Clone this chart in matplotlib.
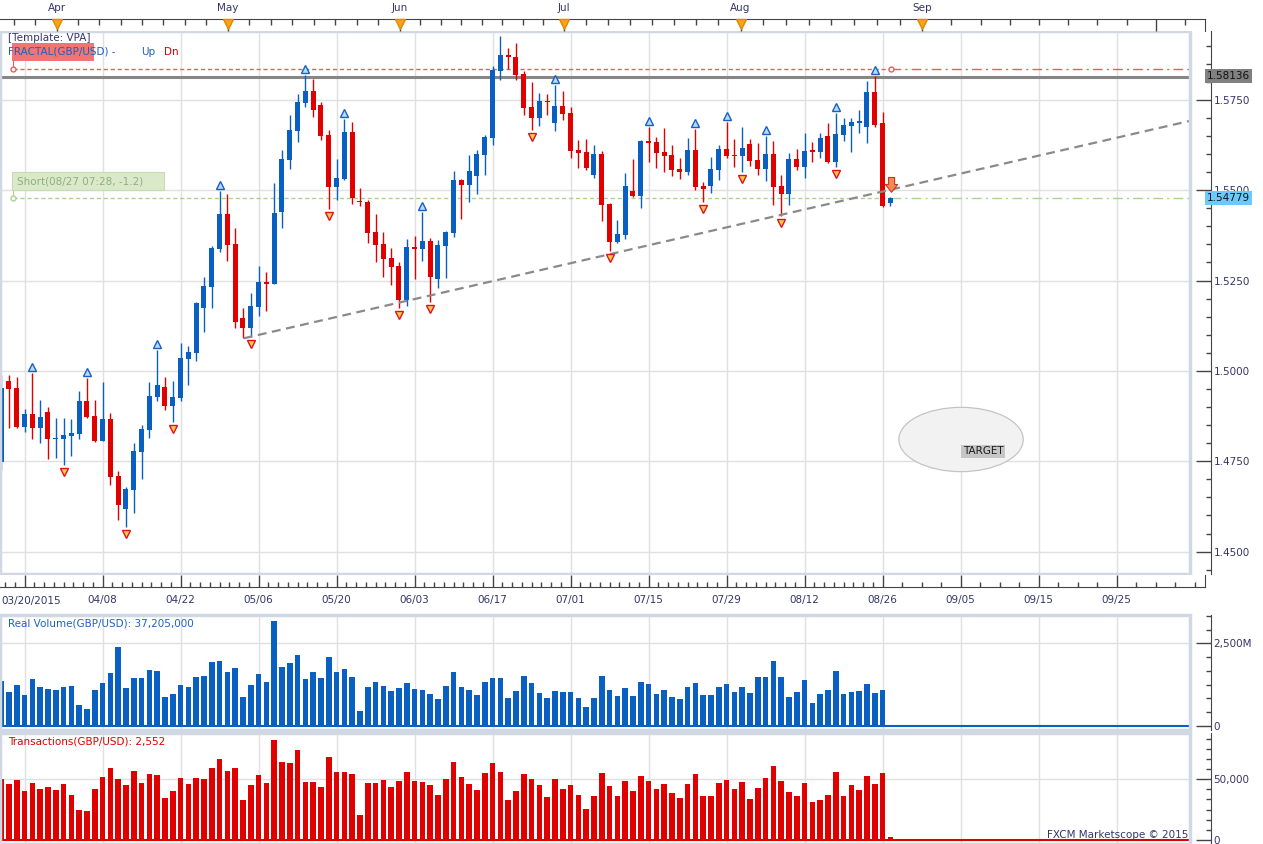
import numpy as np
import matplotlib.pyplot as plt
from matplotlib.patches import Ellipse, Rectangle
from matplotlib.ticker import FixedLocator

W, H = 1263, 844
PX = 7.8  # pixels per daily bar

BLUE = '#0a60c2'
RED = '#e00000'
NAVY = '#35356b'
GRID = '#e0e0e0'
FRAME = '#cfd8e3'

# daily GBP/USD candles, 03/20/2015 .. 08/27/2015
opens = [1.47489, 1.49720, 1.49517, 1.48457, 1.48807, 1.48429, 1.48863, 1.48106, 1.48125, 1.48208,
         1.48263, 1.49167, 1.48752, 1.48070, 1.48678, 1.47092, 1.46188, 1.46705, 1.47765, 1.48365,
         1.49287, 1.49554, 1.49038, 1.49250, 1.50338, 1.50504, 1.51749, 1.52320, 1.53372, 1.54349,
         1.53509, 1.51453, 1.51177, 1.51776, 1.52458, 1.52412, 1.54404, 1.55833, 1.56645, 1.57419,
         1.57742, 1.57355, 1.56525, 1.55095, 1.55317, 1.56608, 1.54690, 1.54671, 1.53841, 1.53500,
         1.53122, 1.52901, 1.51960, 1.53426, 1.53380, 1.53592, 1.52550, 1.53463, 1.53823, 1.55280,
         1.55142, 1.55391, 1.55971, 1.56451, 1.58304, 1.58738, 1.58682, 1.58212, 1.57308, 1.56995,
         1.57465, 1.56857, 1.57327, 1.57133, 1.56110, 1.56054, 1.55418, 1.55999, 1.54616, 1.53565,
         1.53758, 1.54976, 1.54837, 1.56359, 1.56331, 1.56054, 1.55971, 1.55584, 1.55501, 1.56110,
         1.55114, 1.55114, 1.55557, 1.56138, 1.55972, 1.55944, 1.56276, 1.55834, 1.55585, 1.56000,
         1.55114, 1.54893, 1.55861, 1.55640, 1.56092, 1.56055, 1.56498, 1.55778, 1.56525, 1.56783,
         1.56866, 1.56747, 1.57715, 1.56857, 1.54635]
highs = [1.49886, 1.49886, 1.49822, 1.48936, 1.49951, 1.49195, 1.49001, 1.48687, 1.48687, 1.48678,
         1.49443, 1.49803, 1.49195, 1.49692, 1.48826, 1.47230, 1.46797, 1.47996, 1.48494, 1.49692,
         1.50578, 1.49831, 1.49720, 1.50771, 1.50688, 1.51900, 1.52588, 1.53454, 1.54985, 1.54893,
         1.53961, 1.51730, 1.52163, 1.52901, 1.52735, 1.55197, 1.56110, 1.57078, 1.57650, 1.58184,
         1.58074, 1.57447, 1.56654, 1.55861, 1.56967, 1.56884, 1.55059, 1.54736, 1.54339, 1.53841,
         1.53390, 1.53002, 1.53648, 1.53731, 1.54395, 1.53675, 1.53620, 1.53878, 1.55529, 1.55308,
         1.55971, 1.56110, 1.56525, 1.58433, 1.59263, 1.58931, 1.59070, 1.58295, 1.57991, 1.57687,
         1.57659, 1.57908, 1.57742, 1.57299, 1.56386, 1.56414, 1.56248, 1.56082, 1.54644, 1.54173,
         1.55483, 1.55861, 1.56380, 1.56746, 1.56469, 1.56718, 1.56248, 1.55888, 1.56442, 1.56691,
         1.55216, 1.55907, 1.56249, 1.56894, 1.56415, 1.56747, 1.56415, 1.56304, 1.56498, 1.56359,
         1.55419, 1.56018, 1.56138, 1.56581, 1.56332, 1.56581, 1.56857, 1.57134, 1.56996, 1.56996,
         1.57217, 1.58019, 1.58150, 1.57162, 1.54819]
lows = [1.47258, 1.48411, 1.48420, 1.48319, 1.48106, 1.47996, 1.47553, 1.47581, 1.47396, 1.47645,
        1.48125, 1.48706, 1.48042, 1.48060, 1.46843, 1.45875, 1.45691, 1.46059, 1.47018, 1.48153,
        1.49176, 1.48918, 1.48595, 1.49167, 1.49609, 1.50283, 1.51076, 1.51749, 1.53298, 1.53049,
        1.51177, 1.50900, 1.50946, 1.51527, 1.51656, 1.52400, 1.53943, 1.55584, 1.56340, 1.57308,
        1.57032, 1.56386, 1.54487, 1.54736, 1.55271, 1.54625, 1.54570, 1.53546, 1.53021, 1.52597,
        1.52384, 1.51730, 1.51804, 1.52532, 1.53048, 1.51914, 1.52283, 1.52578, 1.53712, 1.54201,
        1.54680, 1.54893, 1.55418, 1.56248, 1.58046, 1.58350, 1.58046, 1.57078, 1.56663, 1.56774,
        1.57078, 1.56635, 1.56940, 1.55888, 1.55612, 1.55556, 1.55326, 1.54146, 1.53316, 1.53537,
        1.53648, 1.54810, 1.54505, 1.55778, 1.55612, 1.55501, 1.55391, 1.55308, 1.55418, 1.55004,
        1.54681, 1.54930, 1.55280, 1.55880, 1.55649, 1.55511, 1.55668, 1.55419, 1.55262, 1.54589,
        1.54285, 1.54589, 1.55557, 1.55336, 1.55788, 1.55889, 1.55750, 1.55649, 1.56359, 1.56055,
        1.56581, 1.56304, 1.56756, 1.54540, 1.54561]
closes = [1.49517, 1.49499, 1.48457, 1.48807, 1.48429, 1.48724, 1.48106, 1.48153, 1.48226, 1.48282,
          1.49167, 1.48724, 1.48070, 1.48678, 1.47074, 1.46299, 1.46732, 1.47784, 1.48392, 1.49305,
          1.49609, 1.49038, 1.49277, 1.50356, 1.50522, 1.51878, 1.52348, 1.53399, 1.54349, 1.53491,
          1.51342, 1.51177, 1.51794, 1.52458, 1.52412, 1.54358, 1.55861, 1.56663, 1.57438, 1.57742,
          1.57225, 1.56506, 1.55095, 1.55326, 1.56608, 1.54791, 1.54662, 1.53823, 1.53491, 1.53104,
          1.52882, 1.51960, 1.53426, 1.53380, 1.53592, 1.52606, 1.53482, 1.53841, 1.55280, 1.55142,
          1.55529, 1.55999, 1.56469, 1.58323, 1.58738, 1.58692, 1.58184, 1.57272, 1.56995, 1.57465,
          1.57438, 1.57327, 1.57106, 1.56082, 1.56027, 1.55612, 1.55999, 1.54588, 1.53565, 1.53786,
          1.55114, 1.54837, 1.56359, 1.56303, 1.56027, 1.55944, 1.55556, 1.55501, 1.56110, 1.55096,
          1.55041, 1.55585, 1.56138, 1.55944, 1.55944, 1.56166, 1.55815, 1.55585, 1.56000, 1.55096,
          1.54893, 1.55861, 1.55640, 1.56083, 1.56064, 1.56442, 1.55778, 1.56553, 1.56802, 1.56885,
          1.56885, 1.57715, 1.56802, 1.54561, 1.54779]

# real volume in millions, transactions count
volume = [1360, 1030, 1240, 940, 1420, 1180, 1120, 1090, 1180, 1210,
          635, 514, 1090, 1300, 1600, 2390, 1150, 1450, 1450, 1690,
          1660, 880, 970, 1240, 1180, 1480, 1510, 1940, 1970, 1630,
          1750, 880, 1240, 1570, 1330, 3180, 1780, 1910, 2150, 1420,
          1630, 1450, 2090, 1630, 1720, 1480, 450, 1180, 1330, 1210,
          1060, 1150, 1300, 1120, 1090, 970, 820, 1210, 1630, 1180,
          1090, 940, 1330, 1450, 1450, 850, 1060, 1510, 1300, 1000,
          850, 1060, 1030, 1030, 850, 575, 850, 1510, 1090, 910,
          1150, 910, 1330, 1270, 970, 1090, 880, 820, 1180, 1300,
          940, 940, 1180, 1270, 1030, 1180, 1000, 1480, 1480, 1970,
          1480, 880, 1030, 1390, 700, 970, 1090, 1660, 970, 1030,
          1060, 1270, 1000, 1090, 37]
transactions = [50300, 46100, 49400, 40400, 47000, 42000, 43700, 41200, 46100, 37100,
                24700, 23900, 42000, 51900, 59300, 50300, 45300, 56900, 47000, 54400,
                53600, 34600, 40400, 51100, 46100, 51100, 50300, 59300, 66800, 56900,
                59300, 33000, 45300, 53600, 47000, 82400, 64300, 63500, 74200, 47800,
                47800, 43700, 68400, 56000, 56000, 54400, 20600, 47000, 47000, 49400,
                43700, 48600, 56000, 48600, 47800, 45300, 37100, 50300, 64300, 51900,
                46100, 41200, 55200, 63500, 56000, 33000, 40400, 54400, 50300, 45300,
                35400, 50300, 42000, 45300, 37100, 25500, 36300, 55200, 44500, 36300,
                48600, 40400, 52700, 48600, 42000, 46100, 38700, 34600, 46100, 54400,
                36300, 36300, 47000, 49400, 42000, 47800, 33800, 42900, 51100, 61000,
                48600, 39600, 36300, 47000, 31300, 33000, 37100, 56000, 36300, 45300,
                41200, 52700, 46100, 55200, 2552]

fractal_up = [4, 11, 20, 28, 39, 44, 54, 71, 83, 89, 93, 98, 107, 112]
fractal_dn = [8, 16, 22, 32, 42, 51, 55, 68, 78, 90, 95, 100, 107]

date_pos = [13, 23, 33, 43, 53, 63, 73, 83, 93, 103, 113, 123, 133, 143]
date_labels = ['04/08', '04/22', '05/06', '05/20', '06/03', '06/17', '07/01',
               '07/15', '07/29', '08/12', '08/26', '09/05', '09/15', '09/25']
month_pos = [7.10, 29.03, 51.08, 72.10, 94.79, 118.09, 148.04]
month_labels = ['Apr', 'May', 'Jun', 'Jul', 'Aug', 'Sep', '']

trend_x = [31.1, 152.5]
trend_y = [1.50901, 1.56920]
resistance = 1.58136
stop_level = 1.58342
short_level = 1.54790
last_price = 1.54779

fig = plt.figure(figsize=(W / 100, H / 100), dpi=100)
fig.patch.set_facecolor('white')


def fax(x0, y0, x1, y1):
    return fig.add_axes([x0 / W, 1 - y1 / H, (x1 - x0) / W, (y1 - y0) / H])


XL = (-0.15, -0.15 + 1190 / PX)
XR = (XL[0], XL[1] + 15 / PX)
grid_pos = [3] + date_pos


def panel(a, ylim, major, labels, minor):
    a.set_xlim(XL)
    a.set_ylim(ylim)
    for s in ('left', 'top', 'bottom'):
        a.spines[s].set_visible(False)
    a.spines['right'].set_position(('outward', 15))
    a.spines['right'].set_color('#444444')
    a.yaxis.tick_right()
    a.set_yticks(major)
    a.set_yticklabels(labels)
    a.yaxis.set_minor_locator(FixedLocator(minor))
    a.tick_params(axis='y', which='major', direction='in', length=10.8, width=1,
                  color='#444444', labelsize=7.5, labelcolor=NAVY, pad=2)
    a.tick_params(axis='y', which='minor', direction='in', length=3.6, width=1, color='#444444')
    a.set_xticks([])
    a.add_patch(Rectangle((0, 0), 1, 1, transform=a.transAxes, fill=False, ec=FRAME,
                          lw=2.5, clip_on=False, zorder=6))
    for g in grid_pos:
        a.axvline(g, color=GRID, lw=1, zorder=0)
    for y in major:
        if y != 0:
            a.axhline(y, color=GRID, lw=1, zorder=0)


# ---- price panel
ax = fax(0, 31, 1190, 574)
pmajor = [1.45, 1.475, 1.5, 1.525, 1.55, 1.575]
panel(ax, (1.44381, 1.59402), pmajor, ['%.4f' % v for v in pmajor],
      np.arange(1.445, 1.5925, 0.005))

o, h, l, c = map(np.array, (opens, highs, lows, closes))
idx = np.arange(len(o))
col = np.where(c >= o, BLUE, RED)
ax.vlines(idx, l, h, colors=col, lw=1.0, zorder=3)
ax.bar(idx, np.maximum(np.abs(c - o), 0.0004), bottom=np.minimum(o, c), width=0.64,
       color=col, lw=0, zorder=3)

ax.plot(fractal_up, h[fractal_up] + 0.0017, '^', ms=6, mfc='#b5dcff', mec='#1a5fc0',
        mew=1, ls='none', zorder=5)
ax.plot(fractal_dn, l[fractal_dn] - 0.0019, 'v', ms=6, mfc='#ffcc44', mec='#e01020',
        mew=1, ls='none', zorder=5)

ax.axhline(resistance, color='#868686', lw=2.2, zorder=2)
ax.plot(trend_x, trend_y, color='#8a8a8a', lw=1.6, ls=(0, (4, 2.5)), zorder=4)

x_tag, x_now = 1.46, 114.03
ax.plot([x_tag, x_now], [stop_level] * 2, color='#f05a5a', lw=1, ls=(0, (3, 2)), zorder=2)
ax.plot([x_now, XL[1]], [stop_level] * 2, color='#f05a5a', lw=1, ls=(0, (7, 3, 1.5, 3)), zorder=2)
ax.plot([x_tag, x_now], [stop_level] * 2, 'o', ms=3.5, mfc='white', mec='#f05a5a', zorder=5)
ax.plot([x_tag, x_tag], [1.58572, stop_level], color='#f05a5a', lw=0.8, zorder=2)
ax.plot([x_tag, x_now], [short_level] * 2, color='#a8d48c', lw=1, ls=(0, (3, 2)), zorder=2)
ax.plot([x_now, XL[1]], [short_level] * 2, color='#a8d48c', lw=1, ls=(0, (7, 3, 1.5, 3)), zorder=2)
ax.plot([x_tag], [short_level], 'o', ms=3.5, mfc='white', mec='#a8d48c', zorder=5)
ax.plot([x_tag, x_tag], [1.55003, short_level], color='#a8d48c', lw=0.8, zorder=2)

ax.annotate('', xy=(114.15, 1.5494), xytext=(114.15, 1.5535),
            arrowprops=dict(arrowstyle='simple,head_width=1.1,head_length=0.7,tail_width=0.55',
                            fc='#f28a55', ec='#c8381a', lw=0.8, mutation_scale=8,
                            shrinkA=0, shrinkB=0), zorder=6)

ax.add_patch(Ellipse((123.06, 1.48102), 15.95, 0.01779, fc='#f2f2f2', ec='#c4c4c4',
                     lw=0.9, zorder=3))
ax.text(123.26, 1.4777, 'TARGET', ha='left', va='center', fontsize=7.5, color='#1a1a1a',
        bbox=dict(boxstyle='square,pad=0.15', fc='#c6c6c6', ec='none'), zorder=4)

# ---- date ruler
axd = fax(0, 575, 1205, 587)
axd.set_xlim(XR)
axd.set_ylim(0, 1)
axd.set_yticks([])
for s in ('left', 'top'):
    axd.spines[s].set_visible(False)
for s in ('bottom', 'right'):
    axd.spines[s].set_color('#444444')
axd.set_xticks(grid_pos)
axd.set_xticklabels([''] + date_labels)
minor_d = [v for v in np.concatenate([np.arange(0.5, 113, 1.25), np.arange(115.5, 154, 2.5)])
           if min(abs(v - g) for g in grid_pos) > 0.3]
axd.xaxis.set_minor_locator(FixedLocator(minor_d))
axd.tick_params(axis='x', which='major', direction='in', length=8.6, width=1, color='#444444',
                labelsize=7.5, labelcolor=NAVY, pad=6)
axd.tick_params(axis='x', which='minor', direction='in', length=3.6, width=1, color='#444444')
fig.text(1 / W, 1 - 601 / H, '03/20/2015', ha='left', va='center', fontsize=7.5, color=NAVY)

# ---- month ruler
axm = fax(0, 19, 1205, 31)
axm.set_xlim(XR)
axm.set_ylim(0, 1)
axm.set_yticks([])
for s in ('left', 'bottom'):
    axm.spines[s].set_visible(False)
for s in ('top', 'right'):
    axm.spines[s].set_color('#444444')
axm.xaxis.tick_top()
axm.set_xticks(month_pos)
axm.set_xticklabels([])
step0 = (month_pos[1] - month_pos[0]) / 8
minor_m = [month_pos[0] - step0, month_pos[0] - 2 * step0]
for a, b in zip(month_pos[:-1], month_pos[1:]):
    minor_m += list(np.linspace(a, b, 9)[1:-1])
minor_m.append(month_pos[-1] + (month_pos[-1] - month_pos[-2]) / 8)
axm.xaxis.set_minor_locator(FixedLocator(minor_m))
axm.tick_params(axis='x', which='major', direction='in', length=8.6, width=1, color='#444444')
axm.tick_params(axis='x', which='minor', direction='in', length=4.3, width=1, color='#444444')
for p, lab in zip(month_pos, month_labels):
    if lab:
        axm.text(p, 1.92, lab, ha='center', va='center', fontsize=7.5, color=NAVY, clip_on=False)
        axm.plot([p], [0.62], 'v', ms=6.5, color='#f7a21b', mec='#e08c00', clip_on=False, zorder=5)

# ---- volume panel
axv = fax(0, 615, 1190, 730)
panel(axv, (-121, 3355), [0, 2500], ['0', '2,500M'], np.arange(0, 3400, 2500 / 6))
axv.bar(idx, volume, width=0.72, color=BLUE, lw=0, zorder=3)
axv.axhline(0, color=BLUE, lw=1.5, zorder=3)

# ---- transactions panel
axt = fax(0, 733, 1190, 844)
panel(axt, (-3295, 87890), [0, 50000], ['0', '50,000'], np.arange(0, 88000, 50000 / 6))
axt.bar(idx, transactions, width=0.72, color=RED, lw=0, zorder=3)
axt.axhline(0, color=RED, lw=1.5, zorder=3)

# ---- labels and tags
fig.text(8 / W, 1 - 38.3 / H, '[Template: VPA]', ha='left', va='center', fontsize=7.5, color=NAVY)
fig.patches.append(Rectangle((12 / W, 1 - 61 / H), 82 / W, 18.3 / H, transform=fig.transFigure,
                             fc='#f37474', ec='none', zorder=1))
fig.text(8 / W, 1 - 52 / H, 'FRACTAL(GBP/USD) -', ha='left', va='center', fontsize=7.5,
         color='#1a5fc0')
fig.text(141.5 / W, 1 - 52 / H, 'Up', ha='left', va='center', fontsize=7.5, color='#1a5fc0')
fig.text(164 / W, 1 - 52 / H, 'Dn', ha='left', va='center', fontsize=7.5, color=RED)
fig.patches.append(Rectangle((12 / W, 1 - 190 / H), 152 / W, 18.3 / H, transform=fig.transFigure,
                             fc='#dbe9cb', ec='#c6dbb0', lw=0.8, zorder=1))
fig.text(17 / W, 1 - 181 / H, 'Short(08/27 07:28, -1.2)', ha='left', va='center', fontsize=7.5,
         color='#8fae7e')

fig.text(1207 / W, 1 - 75.8 / H, '%.5f' % resistance, ha='left', va='center', fontsize=7.5,
         color='#111111', bbox=dict(boxstyle='square,pad=0.2', fc='#808080', ec='none'), zorder=10)
fig.text(1207 / W, 1 - 198 / H, '%.5f' % last_price, ha='left', va='center', fontsize=7.5,
         color='#111111', bbox=dict(boxstyle='square,pad=0.2', fc='#6bc9ff', ec='none'), zorder=10)

fig.text(8 / W, 1 - 623 / H, 'Real Volume(GBP/USD): 37,205,000', ha='left', va='center',
         fontsize=7.5, color='#1a64c8')
fig.text(8 / W, 1 - 742 / H, 'Transactions(GBP/USD): 2,552', ha='left', va='center',
         fontsize=7.5, color=RED)
fig.text(1188 / W, 1 - 835 / H, 'FXCM Marketscope \u00a9 2015', ha='right', va='center',
         fontsize=7.5, color=NAVY)

fig.savefig('out.png', dpi=100)
